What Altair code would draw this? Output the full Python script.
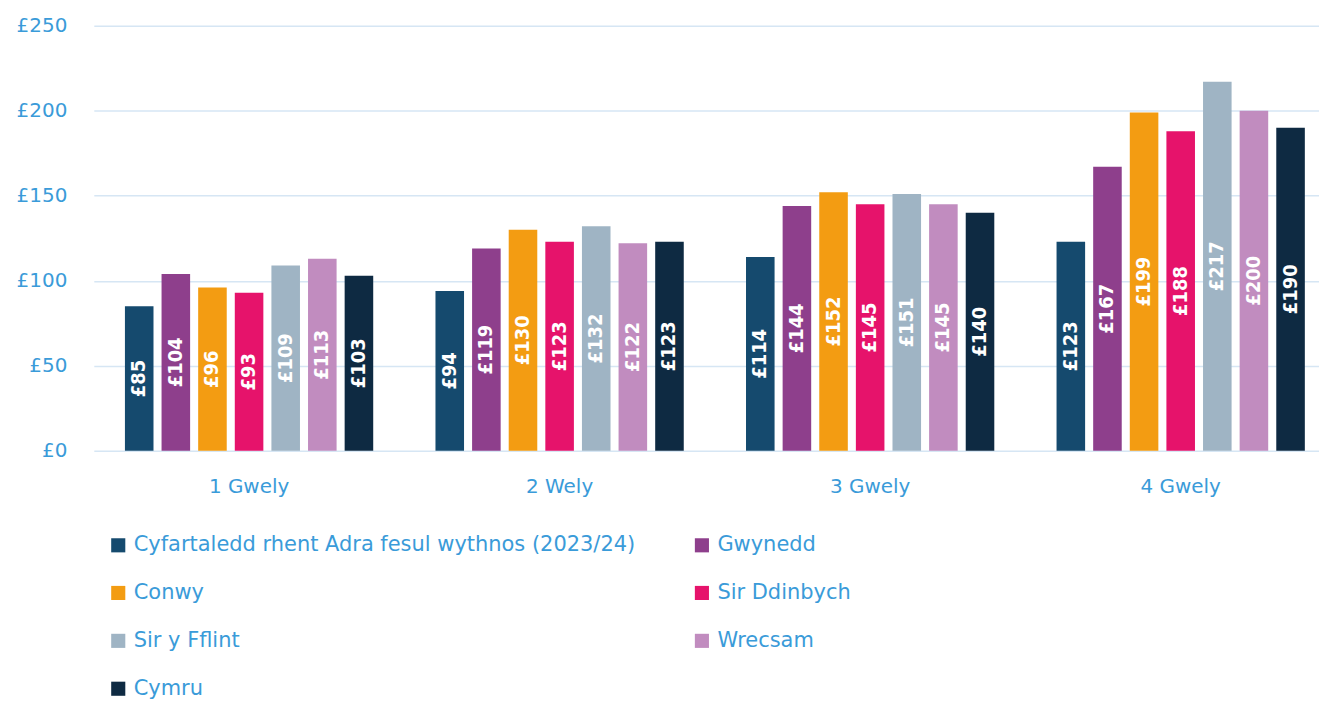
import altair as alt
import pandas as pd

categories = ["1 Gwely", "2 Wely", "3 Gwely", "4 Gwely"]
series = [
    "Cyfartaledd rhent Adra fesul wythnos (2023/24)",
    "Gwynedd",
    "Conwy",
    "Sir Ddinbych",
    "Sir y Fflint",
    "Wrecsam",
    "Cymru",
]
values = {
    "Cyfartaledd rhent Adra fesul wythnos (2023/24)": [85, 94, 114, 123],
    "Gwynedd": [104, 119, 144, 167],
    "Conwy": [96, 130, 152, 199],
    "Sir Ddinbych": [93, 123, 145, 188],
    "Sir y Fflint": [109, 132, 151, 217],
    "Wrecsam": [113, 122, 145, 200],
    "Cymru": [103, 123, 140, 190],
}
colors = ["#154a6e", "#8e3f8c", "#f39c12", "#e6136b", "#9fb4c4", "#c18cbf", "#0e2a42"]
y_ticks = [0, 50, 100, 150, 200, 250]

rows = []
for s_i, s in enumerate(series):
    for c_i, c in enumerate(categories):
        rows.append({"cat": c, "series": s, "order": s_i, "value": values[s][c_i]})
df = pd.DataFrame(rows)

blue = "#3a9bd9"
font = "DejaVu Sans"

x = alt.X("cat:N", sort=categories, title=None,
          scale=alt.Scale(paddingInner=0, paddingOuter=0, range=[0, 1245]),
          axis=alt.Axis(labelAngle=0, labelColor=blue, labelFontSize=20, labelFont=font,
                        ticks=False, domain=False, labelPadding=26))
xo = alt.XOffset("series:N", sort=series,
                 scale=alt.Scale(paddingInner=0.22, paddingOuter=0.85))
color = alt.Color("series:N", sort=series, title=None,
                  scale=alt.Scale(domain=series, range=colors),
                  legend=alt.Legend(orient="none", legendX=14, legendY=510, columns=2,
                                    direction="horizontal",
                                    symbolType="square", symbolSize=200, symbolStrokeWidth=0,
                                    labelColor=blue, labelFontSize=21, labelFont=font,
                                    rowPadding=26, columnPadding=55, labelLimit=800,
                                    labelOffset=5, symbolOffset=0))
y_scale = alt.Scale(domain=[0, 250], nice=False)
y_axis = alt.Axis(values=y_ticks, labelExpr="'£' + datum.value", labelColor=blue,
                  labelFontSize=20, labelFont=font, ticks=False, domain=False,
                  gridColor="#d6e6f4", gridWidth=1.5, labelPadding=27)

bars = alt.Chart(df).mark_bar().encode(
    x=x, xOffset=xo,
    y=alt.Y("value:Q", title=None, scale=y_scale, axis=y_axis),
    color=color,
)

labels = alt.Chart(df).transform_calculate(
    mid="datum.value / 2", lab="'£' + datum.value"
).mark_text(angle=270, color="white", fontSize=20, fontWeight="bold",
            font="DejaVu Sans Condensed").encode(
    x=x, xOffset=xo,
    y=alt.Y("mid:Q", title=None, scale=y_scale, axis=y_axis),
    text="lab:N",
)

chart = alt.layer(bars, labels).properties(
    width=1228, height=426,
    background="white",
    autosize=alt.AutoSizeParams(type="none"),
    padding={"left": 86, "top": 17, "right": 0, "bottom": 250},
).configure_view(strokeWidth=0)

chart.save("out.html", embed_options={"renderer": "svg", "actions": False})
